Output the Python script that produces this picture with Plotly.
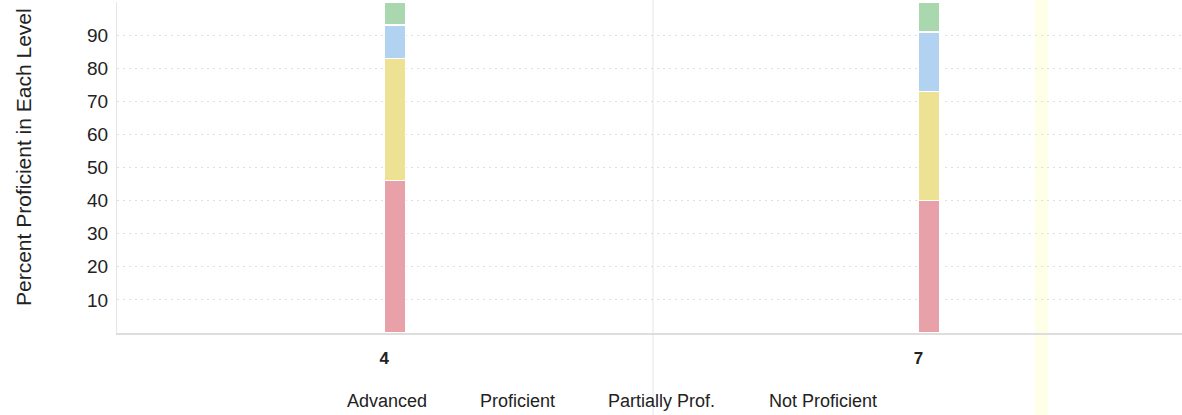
import plotly.graph_objects as go

grades = [4, 7]
tick_labels = ["4", "7"]
not_proficient = [46, 40]
partially_prof = [37, 33]
proficient = [10, 18]
advanced = [7, 9]

series = [
    ("Not Proficient", not_proficient, "#E8A1A8"),
    ("Partially Prof.", partially_prof, "#EDE293"),
    ("Proficient", proficient, "#B1D2F1"),
    ("Advanced", advanced, "#A9D7AE"),
]
legend_order = ["Advanced", "Proficient", "Partially Prof.", "Not Proficient"]
legend_x_px = [387, 517, 661, 823]

W, H = 1182, 415
L, R, T, B = 117, 0, 2, 82
pw = W - L - R
ph = H - T - B

fig = go.Figure()
for name, vals, color in series:
    fig.add_trace(go.Bar(
        x=grades, y=vals, name=name,
        marker=dict(color=color, line=dict(color="white", width=1.5)),
        width=0.12, offset=0, showlegend=False,
        hovertemplate=name + ": %{y}<extra></extra>",
    ))

font_family = "Liberation Sans, Arial, sans-serif"
txt = "#222222"

annotations = []
for label, px in zip(legend_order, legend_x_px):
    annotations.append(dict(
        text=label, xref="paper", yref="paper",
        x=(px - L) / pw, y=(T + ph - 401) / ph,
        xanchor="center", yanchor="middle", showarrow=False,
        font=dict(size=18, color=txt, family=font_family),
    ))
annotations.append(dict(
    text="Percent Proficient in Each Level", xref="paper", yref="paper",
    x=(23 - L) / pw, y=(T + ph - 157) / ph, textangle=-90,
    xanchor="center", yanchor="middle", showarrow=False,
    font=dict(size=21, color=txt, family=font_family),
))

shapes = [
    dict(type="rect", xref="paper", yref="paper", layer="below",
         x0=(1035 - L) / pw, x1=(1048 - L) / pw,
         y0=(T + ph - H) / ph, y1=(T + ph) / ph,
         fillcolor="#FDFFE6", line=dict(width=0)),
    dict(type="line", xref="paper", yref="paper", layer="below",
         x0=(653 - L) / pw, x1=(653 - L) / pw,
         y0=(T + ph - H) / ph, y1=(T + ph) / ph,
         line=dict(color="#EEEEF0", width=1.5)),
]

fig.update_layout(
    width=W, height=H,
    margin=dict(l=L, r=R, t=T, b=B),
    barmode="stack",
    plot_bgcolor="white", paper_bgcolor="white",
    font=dict(family=font_family, color=txt),
    annotations=annotations,
    shapes=shapes,
    xaxis=dict(
        range=[2.5, 8.48], tickvals=grades, ticktext=tick_labels,
        showgrid=False, zeroline=False,
        showline=True, linecolor="#DDDDDD", linewidth=1.5,
        ticks="outside", ticklen=9, tickcolor="rgba(0,0,0,0)",
        tickfont=dict(size=17, color=txt, family="Liberation Sans, Arial", weight="bold"),
    ),
    yaxis=dict(
        range=[0, 100], tickvals=[10, 20, 30, 40, 50, 60, 70, 80, 90],
        showgrid=True, gridcolor="#DEDEDE", griddash="2px,4px", gridwidth=1,
        zeroline=False, showline=True, linecolor="#E6E6E6", linewidth=1,
        ticks="outside", ticklen=4, tickcolor="rgba(0,0,0,0)",
        tickfont=dict(size=19, color=txt, family=font_family),
    ),
)

fig.write_html(
    "out.html",
    config={"displayModeBar": False},
    post_script="document.body.style.margin='0';document.body.style.overflow='hidden';",
)
